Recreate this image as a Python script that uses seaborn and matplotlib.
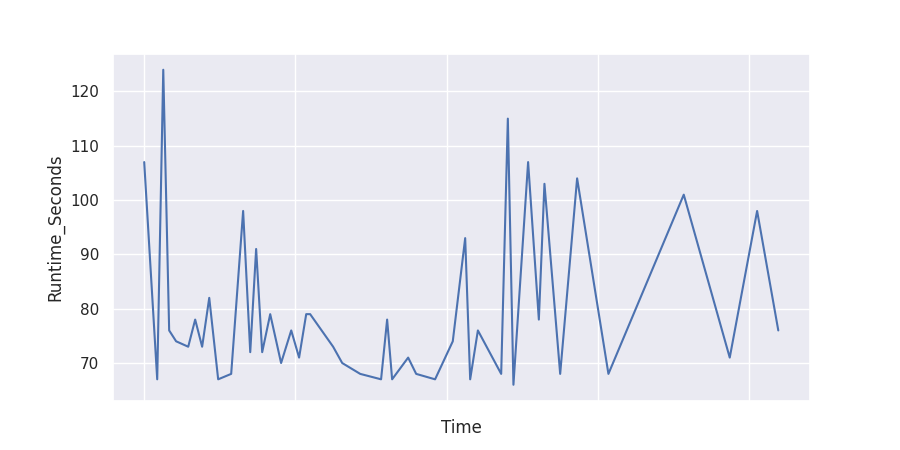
import matplotlib
matplotlib.use("Agg")
import matplotlib.pyplot as plt
import seaborn as sns
import pandas as pd

time = [0, 0.86, 1.26, 1.65, 2.11, 2.91, 3.37, 3.83, 4.30, 4.89, 5.75, 6.54, 7.01,
        7.40, 7.80, 8.33, 9.05, 9.72, 10.24, 10.71, 10.97, 12.49, 13.09, 14.28,
        15.66, 16.06, 16.39, 17.45, 17.98, 19.23, 20.40, 21.22, 21.55, 22.06,
        23.60, 24.04, 24.41, 25.38, 26.09, 26.46, 27.50, 28.62, 30.69, 35.67,
        38.71, 40.52, 41.92]
runtime = [107, 67, 124, 76, 74, 73, 78, 73, 82, 67, 68, 98, 72, 91, 72, 79, 70,
           76, 71, 79, 79, 73, 70, 68, 67, 78, 67, 71, 68, 67, 74, 93, 67, 76, 68,
           115, 66, 107, 78, 103, 68, 104, 68, 101, 71, 98, 76]
x_ticks = [0, 10, 20, 30, 40]

df = pd.DataFrame({"Time": time, "Runtime_Seconds": runtime})

sns.set_theme(style="darkgrid")
fig, ax = plt.subplots(figsize=(9, 4.5), dpi=100)
sns.lineplot(data=df, x="Time", y="Runtime_Seconds", ax=ax)
ax.set_xticks(x_ticks)
ax.set_xticklabels([""] * len(x_ticks))
fig.savefig("out.png", dpi=100)
